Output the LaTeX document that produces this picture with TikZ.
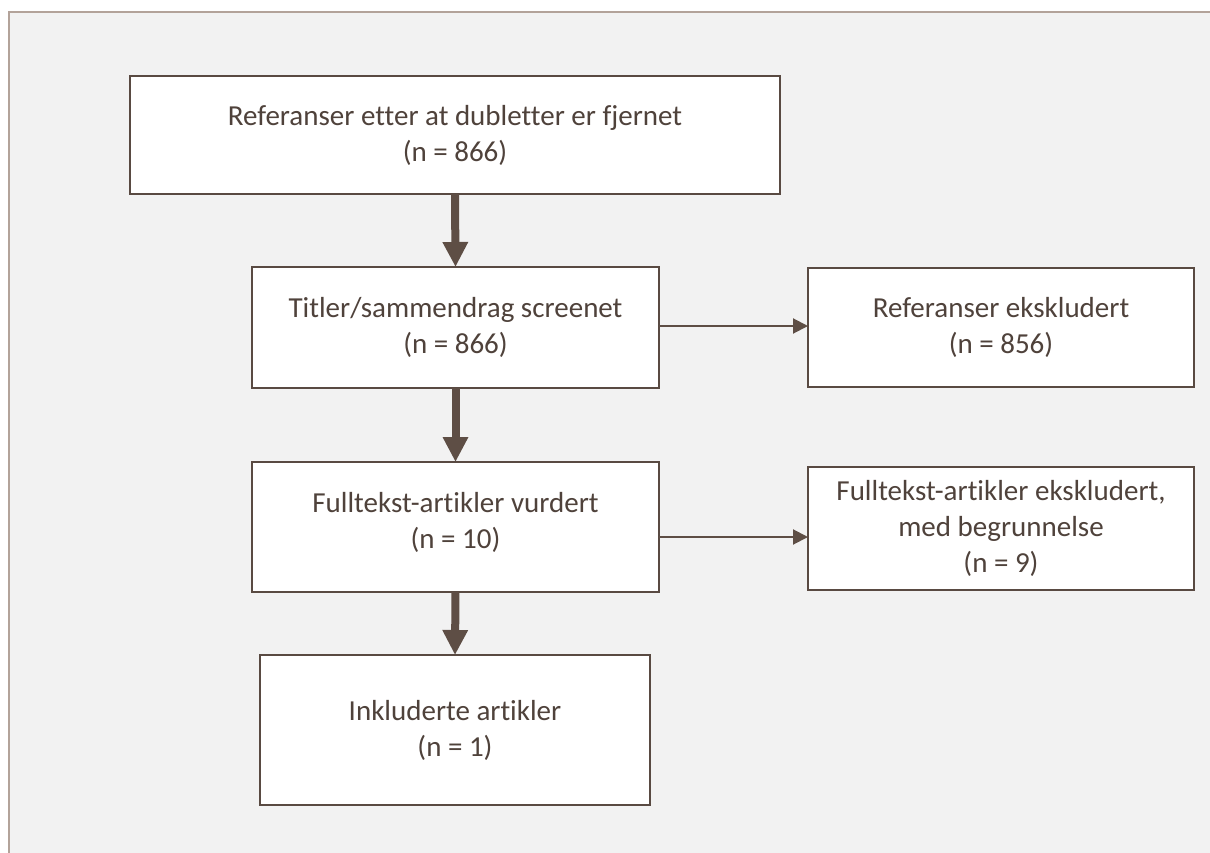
\documentclass[tikz,border=0pt]{standalone}
\usepackage{fontspec}
\setmainfont{Carlito}[Ligatures={NoCommon}]
\usetikzlibrary{arrows.meta}
\definecolor{framec}{HTML}{B3A39A}
\definecolor{bgc}{HTML}{F2F2F2}
\definecolor{boxc}{HTML}{594A42}
\definecolor{arrc}{HTML}{5E4E45}
\definecolor{txtc}{HTML}{4F423B}
\begin{document}
\begin{tikzpicture}[x=1pt,y=-1pt,
  box/.style={draw=boxc, fill=white, line width=2.5pt, rectangle, anchor=north west,
    inner sep=0pt, outer sep=0pt, align=center, text=txtc,
    font=\fontsize{29}{36}\selectfont},
  bigarrow/.style={draw=arrc, line width=8pt, -{Triangle[width=24pt,length=25pt]}},
  smallarrow/.style={draw=arrc, line width=2pt, -{Triangle[width=15pt,length=15pt]}}]
\useasboundingbox (0,0) rectangle (1210,853);
\fill[white] (0,0) rectangle (1210,853);
\fill[bgc] (9,12) rectangle (1210,853);
\draw[framec, line width=2pt] (9,853) -- (9,12) -- (1210,12);

\node[box, minimum width=650pt, minimum height=118pt] (b1) at (130,76)
  {Referanser etter at dubletter er fjernet\\(n = 866)};
\node[box, minimum width=407pt, minimum height=121pt] (b2) at (252,267)
  {Titler/sammendrag screenet\\(n = 866)};
\node[box, minimum width=386pt, minimum height=119pt] (b3) at (808,268)
  {Referanser ekskludert\\(n = 856)};
\node[box, minimum width=407pt, minimum height=130pt] (b4) at (252,462)
  {Fulltekst-artikler vurdert\\(n = 10)\\[-22pt]};
\node[box, minimum width=386pt, minimum height=123pt] (b5) at (808,467)
  {Fulltekst-artikler ekskludert,\\med begrunnelse\\(n = 9)};
\node[box, minimum width=390pt, minimum height=150pt] (b6) at (260,655)
  {Inkluderte artikler\\(n = 1)};

\coordinate (h1) at (0,326);
\coordinate (h2) at (0,537);

\draw[bigarrow] (b1.south) -- (b2.north);
\draw[bigarrow] (b2.south) -- (b4.north);
\draw[bigarrow] (b4.south) -- (b6.north);
\draw[smallarrow] (b2.east |- h1) -- (b3.west |- h1);
\draw[smallarrow] (b4.east |- h2) -- (b5.west |- h2);
\end{tikzpicture}
\end{document}
